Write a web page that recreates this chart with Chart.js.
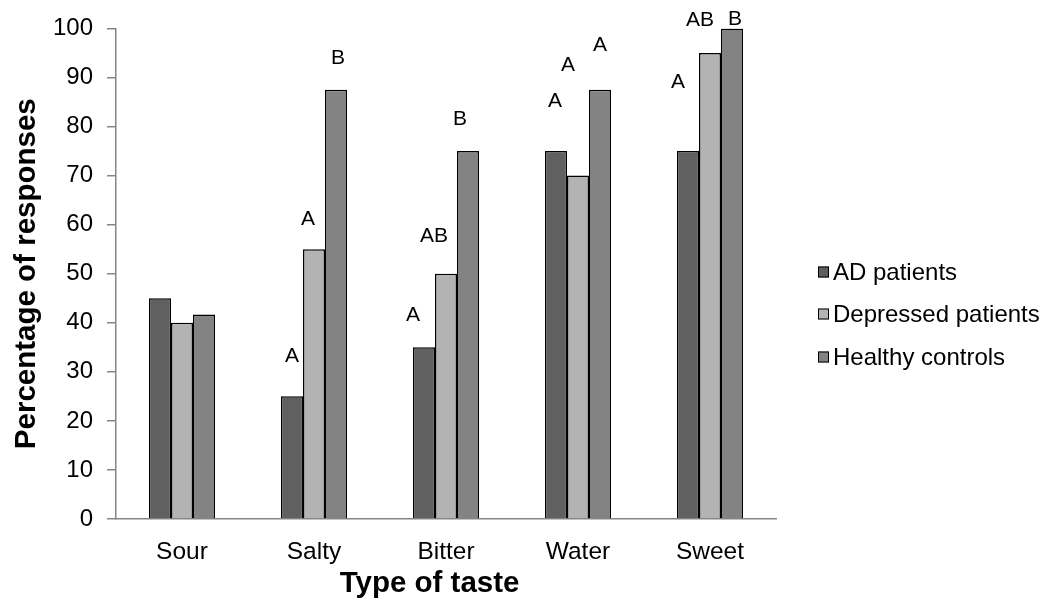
<!DOCTYPE html>
<html>
<head>
<meta charset="utf-8">
<script src="https://cdn.jsdelivr.net/npm/chart.js@4/dist/chart.umd.min.js"></script>
<style>
  html, body { margin: 0; padding: 0; background: #fff; }
  #wrap { width: 1044px; height: 603px; position: relative; }
</style>
</head>
<body>
<div id="wrap"><canvas id="tasteChart"></canvas></div>
<script>
// --- DATA ---
const categories = ["Sour", "Salty", "Bitter", "Water", "Sweet"];
const seriesNames = ["AD patients", "Depressed patients", "Healthy controls"];
const adPatients = [45, 25, 35, 75, 75];
const depressedPatients = [40, 55, 50, 70, 95];
const healthyControls = [41.67, 87.5, 75, 87.5, 100];
const yTicks = [0, 10, 20, 30, 40, 50, 60, 70, 80, 90, 100];

// significance letters over each bar, and the % level where each one sits
const lettersAD = ["", "A", "A", "A", "A"];
const lettersDepressed = ["", "A", "AB", "A", "AB"];
const lettersHealthy = ["", "B", "B", "A", "B"];
const letterLevelAD = [null, 33.1, 41.5, 85.1, 89.1];
const letterLevelDepressed = [null, 61.1, 57.7, 92.5, 101.6];
const letterLevelHealthy = [null, 94.0, 81.5, 96.6, 101.8];

// small sideways nudges (px) the original labels had
const letterNudge = [
    [0, 0, -11, -1, -10],
    [0, -6, -12, -10, -10],
    [0, 2, -8, 0, 3]
];

const FONT = "'Liberation Sans', Arial, sans-serif";
const barColors = ["#606060", "#b3b3b3", "#838383"];
const axisGray = "#868686";

// --- PLUGINS ---
const letterPlugin = {
    id: "letters",
    afterDatasetsDraw(chart) {
        const { ctx, scales: { y } } = chart;
        const letters = [lettersAD, lettersDepressed, lettersHealthy];
        const levels = [letterLevelAD, letterLevelDepressed, letterLevelHealthy];
        ctx.save();
        ctx.font = `21px ${FONT}`;
        ctx.fillStyle = "#000";
        ctx.textAlign = "center";
        ctx.textBaseline = "middle";
        letters.forEach((row, i) => {
            const meta = chart.getDatasetMeta(i);
            row.forEach((txt, j) => {
                if (!txt) return;
                const bar = meta.data[j];
                ctx.fillText(txt, bar.x + letterNudge[i][j], y.getPixelForValue(levels[i][j]));
            });
        });
        ctx.restore();
    }
};

const legendPlugin = {
    id: "sideLegend",
    afterDraw(chart) {
        const { ctx } = chart;
        const left = 818, rowY = [272, 314, 357], box = 11;
        ctx.save();
        ctx.font = `24px ${FONT}`;
        ctx.textBaseline = "middle";
        chart.data.datasets.forEach((ds, i) => {
            ctx.fillStyle = ds.backgroundColor;
            ctx.fillRect(left, rowY[i] - box / 2, box, box);
            ctx.strokeStyle = "#000";
            ctx.lineWidth = 1;
            ctx.strokeRect(left + 0.5, rowY[i] - box / 2 + 0.5, box - 1, box - 1);
            ctx.fillStyle = "#000";
            ctx.fillText(ds.label, left + box + 4, rowY[i] + 1);
        });
        ctx.restore();
    }
};

// --- CHART ---
const seriesData = [adPatients, depressedPatients, healthyControls];

new Chart(document.getElementById("tasteChart"), {
    type: "bar",
    data: {
        labels: categories,
        datasets: seriesData.map((vals, i) => ({
            label: seriesNames[i],
            data: vals,
            backgroundColor: barColors[i],
            borderColor: "#000",
            borderWidth: 1.5,
            categoryPercentage: 0.5,
            barPercentage: 1
        }))
    },
    options: {
        responsive: true,
        maintainAspectRatio: false,
        animation: false,
        layout: { padding: { top: 23, right: 268, bottom: 0, left: 0 } },
        plugins: {
            legend: { display: false },
            tooltip: { enabled: false }
        },
        scales: {
            x: {
                grid: { drawOnChartArea: false, drawTicks: false },
                border: { color: axisGray, width: 1.5 },
                ticks: { color: "#000", padding: 19, font: { family: FONT, size: 24.5 } },
                title: {
                    display: true,
                    // trailing spaces pull the centred title a little left, as in the original
                    text: "Type of taste    ",
                    color: "#000",
                    padding: { top: 0, bottom: 1 },
                    font: { family: FONT, size: 29.5, weight: "bold" }
                },
                afterFit: (s) => { s.height = 84; }
            },
            y: {
                min: 0,
                max: 100,
                afterBuildTicks: (s) => { s.ticks = yTicks.map(v => ({ value: v })); },
                grid: { drawOnChartArea: false, tickLength: 9, color: axisGray, lineWidth: 1.5 },
                border: { color: axisGray, width: 1.5 },
                ticks: { color: "#000", padding: 14, font: { family: FONT, size: 24 } },
                title: {
                    display: true,
                    text: "Percentage of responses",
                    color: "#000",
                    padding: { top: 9, bottom: 0 },
                    font: { family: FONT, size: 29.5, weight: "bold" }
                },
                afterFit: (s) => { s.width = 116; }
            }
        }
    },
    plugins: [letterPlugin, legendPlugin]
});
</script>
</body>
</html>
